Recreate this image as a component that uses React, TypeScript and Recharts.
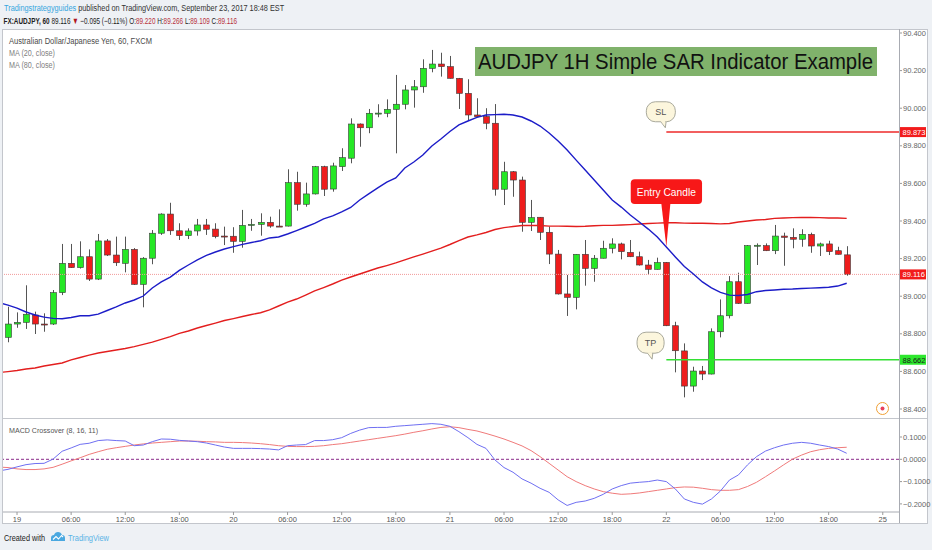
import React from "react";
import { ComposedChart, Bar, Line, XAxis, YAxis, ReferenceLine, ReferenceDot } from "recharts";

const FONT = "'Liberation Sans', Arial, sans-serif";

// ---- hourly candles (index 0 = 18 Sep 23:00) ----
const openP = [
  88.781, 88.852, 88.861, 88.900, 88.852, 88.852, 89.019, 89.175, 89.152, 89.210,
  89.091, 89.294, 89.219, 89.175, 89.249, 89.063, 89.202, 89.335, 89.437, 89.348,
  89.322, 89.347, 89.379, 89.357, 89.320, 89.319, 89.292, 89.379, 89.382, 89.393,
  89.373, 89.373, 89.604, 89.489, 89.544, 89.689, 89.570, 89.689, 89.734, 89.916,
  89.896, 89.973, 89.973, 89.994, 90.021, 90.097, 90.114, 90.212, 90.235, 90.221,
  90.159, 90.079, 89.964, 89.956, 89.920, 89.569, 89.662, 89.618, 89.393, 89.420,
  89.340, 89.224, 89.012, 88.994, 89.223, 89.148, 89.202, 89.255, 89.278, 89.233,
  89.210, 89.166, 89.143, 89.180, 88.843, 88.709, 88.522, 88.602, 88.586, 88.811,
  88.896, 89.077, 88.962, 89.269, 89.269, 89.242, 89.320, 89.313, 89.303, 89.329,
  89.267, 89.278, 89.242, 89.220,
];
const highP = [
  88.944, 88.914, 89.058, 88.918, 88.909, 89.033, 89.278, 89.278, 89.292, 89.249,
  89.331, 89.304, 89.317, 89.317, 89.256, 89.208, 89.352, 89.441, 89.497, 89.388,
  89.361, 89.411, 89.411, 89.388, 89.370, 89.367, 89.459, 89.411, 89.441, 89.423,
  89.462, 89.675, 89.662, 89.604, 89.693, 89.694, 89.710, 89.787, 89.946, 89.919,
  89.996, 90.021, 90.047, 90.177, 90.123, 90.150, 90.260, 90.310, 90.295, 90.278,
  90.161, 90.154, 90.053, 90.000, 90.022, 89.715, 89.666, 89.636, 89.512, 89.421,
  89.370, 89.246, 89.113, 89.224, 89.299, 89.219, 89.295, 89.308, 89.285, 89.299,
  89.237, 89.193, 89.205, 89.182, 88.864, 88.749, 88.625, 88.629, 88.829, 88.983,
  89.107, 89.125, 89.272, 89.281, 89.281, 89.379, 89.338, 89.361, 89.356, 89.338,
  89.285, 89.295, 89.263, 89.266,
];
const lowP = [
  88.755, 88.832, 88.826, 88.799, 88.811, 88.847, 89.006, 89.150, 89.147, 89.081,
  89.086, 89.214, 89.161, 89.127, 89.060, 88.941, 89.170, 89.326, 89.326, 89.299,
  89.304, 89.322, 89.326, 89.308, 89.272, 89.231, 89.258, 89.348, 89.322, 89.364,
  89.368, 89.371, 89.455, 89.476, 89.541, 89.533, 89.556, 89.666, 89.707, 89.795,
  89.867, 89.952, 89.952, 89.760, 89.994, 90.003, 90.082, 90.191, 90.168, 90.158,
  89.996, 89.937, 89.951, 89.888, 89.535, 89.485, 89.529, 89.343, 89.347, 89.299,
  89.171, 89.009, 88.895, 88.930, 89.056, 89.077, 89.201, 89.228, 89.196, 89.208,
  89.163, 89.115, 89.142, 88.841, 88.595, 88.462, 88.492, 88.554, 88.584, 88.781,
  88.882, 88.959, 88.961, 89.166, 89.240, 89.224, 89.162, 89.255, 89.263, 89.231,
  89.214, 89.219, 89.222, 89.109,
];
const closeP = [
  88.852, 88.861, 88.904, 88.852, 88.850, 89.019, 89.175, 89.152, 89.210, 89.091,
  89.294, 89.219, 89.178, 89.249, 89.063, 89.202, 89.335, 89.437, 89.348, 89.322,
  89.347, 89.379, 89.356, 89.317, 89.319, 89.292, 89.377, 89.382, 89.393, 89.373,
  89.371, 89.604, 89.489, 89.544, 89.689, 89.569, 89.693, 89.737, 89.916, 89.896,
  89.973, 89.974, 89.994, 90.021, 90.097, 90.114, 90.212, 90.235, 90.221, 90.159,
  90.079, 89.964, 89.955, 89.920, 89.569, 89.662, 89.618, 89.393, 89.418, 89.340,
  89.224, 89.012, 88.994, 89.223, 89.148, 89.202, 89.255, 89.278, 89.237, 89.210,
  89.166, 89.143, 89.179, 88.843, 88.710, 88.522, 88.602, 88.586, 88.811, 88.896,
  89.077, 88.962, 89.269, 89.271, 89.242, 89.320, 89.313, 89.303, 89.329, 89.267,
  89.278, 89.237, 89.223, 89.116,
];

// ---- indicators (first value = bar just left of the view, index -1) ----
const ma20 = [
  88.966,
  88.953, 88.937, 88.916, 88.900, 88.889, 88.882, 88.880, 88.887, 88.896, 88.896,
  88.905, 88.924, 88.943, 88.964, 88.980, 89.001, 89.044, 89.076, 89.102, 89.137,
  89.166, 89.193, 89.217, 89.235, 89.251, 89.264, 89.276, 89.286, 89.295, 89.310,
  89.315, 89.331, 89.349, 89.368, 89.387, 89.411, 89.427, 89.448, 89.472, 89.512,
  89.544, 89.576, 89.607, 89.629, 89.682, 89.714, 89.751, 89.799, 89.836, 89.876,
  89.911, 89.932, 89.951, 89.964, 89.966, 89.968, 89.964, 89.953, 89.932, 89.905,
  89.868, 89.826, 89.778, 89.724, 89.671, 89.618, 89.565, 89.512, 89.474, 89.432,
  89.395, 89.357, 89.315, 89.262, 89.209, 89.158, 89.118, 89.076, 89.044, 89.020,
  89.006, 89.004, 89.009, 89.024, 89.030, 89.033, 89.037, 89.038, 89.041, 89.043,
  89.045, 89.048, 89.054, 89.069,
];
const ma80 = [
  88.594,
  88.599, 88.605, 88.613, 88.618, 88.629, 88.637, 88.645, 88.661, 88.674, 88.687,
  88.698, 88.706, 88.714, 88.722, 88.732, 88.744, 88.756, 88.770, 88.785, 88.802,
  88.815, 88.831, 88.844, 88.857, 88.871, 88.881, 88.892, 88.903, 88.912, 88.927,
  88.948, 88.969, 88.985, 89.006, 89.028, 89.046, 89.065, 89.086, 89.102, 89.118,
  89.134, 89.150, 89.163, 89.177, 89.193, 89.209, 89.224, 89.240, 89.256, 89.275,
  89.296, 89.315, 89.326, 89.339, 89.355, 89.365, 89.371, 89.376, 89.376, 89.376,
  89.373, 89.373, 89.372, 89.371, 89.372, 89.375, 89.377, 89.377, 89.379, 89.381,
  89.384, 89.387, 89.389, 89.391, 89.391, 89.389, 89.388, 89.388, 89.387, 89.385,
  89.387, 89.395, 89.400, 89.405, 89.408, 89.414, 89.416, 89.418, 89.419, 89.419,
  89.418, 89.416, 89.416, 89.414,
];
// MACD Crossover (8, 16, 11)
const macdLine = [
  -0.052,
  -0.045, -0.034, -0.024, -0.019, -0.018, 0.001, 0.036, 0.051, 0.067, 0.072,
  0.084, 0.087, 0.084, 0.082, 0.061, 0.064, 0.079, 0.091, 0.090, 0.085,
  0.082, 0.079, 0.073, 0.064, 0.055, 0.049, 0.049, 0.049, 0.048, 0.046,
  0.042, 0.061, 0.064, 0.066, 0.084, 0.084, 0.088, 0.097, 0.116, 0.131,
  0.142, 0.143, 0.143, 0.148, 0.151, 0.154, 0.157, 0.160, 0.157, 0.148,
  0.124, 0.097, 0.067, 0.049, -0.003, -0.037, -0.058, -0.088, -0.107, -0.130,
  -0.148, -0.182, -0.207, -0.193, -0.187, -0.175, -0.157, -0.133, -0.118, -0.107,
  -0.103, -0.100, -0.093, -0.100, -0.133, -0.178, -0.193, -0.201, -0.178, -0.142,
  -0.093, -0.070, -0.025, 0.012, 0.037, 0.052, 0.064, 0.072, 0.076, 0.072,
  0.064, 0.057, 0.046, 0.027,
];
const signalLine = [
  -0.035,
  -0.037, -0.043, -0.046, -0.046, -0.043, -0.036, -0.022, -0.007, 0.007, 0.022,
  0.034, 0.045, 0.052, 0.058, 0.064, 0.069, 0.073, 0.076, 0.079, 0.082,
  0.082, 0.081, 0.079, 0.078, 0.076, 0.076, 0.075, 0.073, 0.070, 0.066,
  0.061, 0.058, 0.057, 0.057, 0.058, 0.061, 0.066, 0.070, 0.076, 0.082,
  0.088, 0.094, 0.100, 0.106, 0.113, 0.121, 0.128, 0.136, 0.143, 0.146,
  0.142, 0.134, 0.127, 0.116, 0.104, 0.091, 0.076, 0.060, 0.039, 0.012,
  -0.018, -0.048, -0.078, -0.100, -0.118, -0.133, -0.145, -0.152, -0.157, -0.155,
  -0.151, -0.145, -0.139, -0.133, -0.127, -0.124, -0.125, -0.130, -0.136, -0.139,
  -0.139, -0.136, -0.122, -0.103, -0.078, -0.052, -0.025, 0.001, 0.019, 0.034,
  0.043, 0.049, 0.052, 0.054,
];

// ---- axes ----
const timeTickIdx = [1, 7, 13, 19, 25, 31, 37, 43, 49, 55, 61, 67, 73, 79, 85, 91, 97];
const timeTickLabels = ["19", "06:00", "12:00", "18:00", "20", "06:00", "12:00", "18:00", "21", "06:00", "12:00", "18:00", "22", "06:00", "12:00", "18:00", "25"];
const priceTicks = [88.4, 88.6, 88.8, 89.0, 89.2, 89.4, 89.6, 89.8, 90.0, 90.2, 90.4];
const macdTicks = [-0.2, -0.1, 0, 0.1];

// ---- annotations ----
const lastPrice = 89.116;
const stopLoss = 89.873;
const takeProfit = 88.662;
const entryIndex = 73;
const entryTip = 89.263;
const slTip = 89.896;
const tpTipIndex = 71.75;
const tpTip = 88.665;

const X_DOMAIN: [number, number] = [-0.5544, 98.799];
const PRICE_DOMAIN: [number, number] = [88.3522, 90.4213];
const MACD_DOMAIN: [number, number] = [-0.2363, 0.1852];

const priceData = ma20.map((m, k) => {
  const i = k - 1;
  return {
    i,
    o: i >= 0 ? openP[i] : null,
    h: i >= 0 ? highP[i] : null,
    l: i >= 0 ? lowP[i] : null,
    c: i >= 0 ? closeP[i] : null,
    ma20: m,
    ma80: ma80[k],
  };
});
const macdData = macdLine.map((m, k) => ({ i: k - 1, macd: m, signal: signalLine[k] }));

function Candle(props: any) {
  const { x, y, width, height, payload } = props;
  if (!payload || payload.o == null || height == null || isNaN(y)) return null;
  const top = Math.min(y, y + height);
  const h = Math.abs(height);
  const range = payload.h - payload.l;
  const k = range > 0 ? h / range : 0;
  const up = payload.c >= payload.o;
  const bTop = top + (payload.h - Math.max(payload.o, payload.c)) * k;
  const bBot = top + (payload.h - Math.min(payload.o, payload.c)) * k;
  const cx = Math.round(x + width / 2) + 0.5;
  const bw = 6;
  return (
    <g>
      <line x1={cx} x2={cx} y1={top} y2={top + h} stroke="#555" strokeWidth={1} />
      <rect
        x={cx - bw / 2}
        y={bTop}
        width={bw}
        height={Math.max(1, bBot - bTop)}
        fill={up ? "#25e825" : "#ee1c1c"}
        stroke="#3a3a3a"
        strokeWidth={0.6}
      />
    </g>
  );
}

const makeTag = (value: number, fill: string, color: string) => (p: any) => {
  const { cx, cy } = p;
  return (
    <g>
      <rect x={cx + 1} y={cy - 5} width={26} height={10} fill={fill} />
      <text x={cx + 3.5} y={cy + 2.8} fontSize={7.5} fill={color} fontFamily={FONT}>
        {value.toFixed(3)}
      </text>
    </g>
  );
};

const SLBubble = (p: any) => {
  const { cx, cy } = p;
  return (
    <g>
      <polygon points={`${cx - 7},${cy - 8} ${cx},${cy - 8} ${cx - 1},${cy}`} fill="#fcf6dd" stroke="#a9a99b" strokeWidth={1} />
      <rect x={cx - 20} y={cy - 26} width={29} height={20} rx={9} fill="#fcf6dd" stroke="#a9a99b" strokeWidth={1} />
      <polygon points={`${cx - 6},${cy - 7} ${cx - 1},${cy - 7} ${cx - 1.5},${cy - 2}`} fill="#fcf6dd" />
      <text x={cx - 5.5} y={cy - 12.5} fontSize={9} fill="#555" textAnchor="middle" fontFamily={FONT}>SL</text>
    </g>
  );
};

const TPBubble = (p: any) => {
  const { cx, cy } = p;
  return (
    <g>
      <polygon points={`${cx - 9},${cy - 8} ${cx - 2},${cy - 8} ${cx - 3},${cy}`} fill="#fcf6dd" stroke="#a9a99b" strokeWidth={1} />
      <rect x={cx - 18} y={cy - 27} width={27} height={21} rx={9} fill="#fcf6dd" stroke="#a9a99b" strokeWidth={1} />
      <polygon points={`${cx - 8},${cy - 7} ${cx - 3},${cy - 7} ${cx - 3.5},${cy - 2}`} fill="#fcf6dd" />
      <text x={cx - 4.5} y={cy - 13} fontSize={9} fill="#555" textAnchor="middle" fontFamily={FONT}>TP</text>
    </g>
  );
};

const EntryLabel = (p: any) => {
  const { cx, cy } = p;
  return (
    <g>
      <rect x={cx - 35.6} y={cy - 67.4} width={71.3} height={24.7} rx={4} fill="#f71818" />
      <polygon points={`${cx - 5},${cy - 43} ${cx + 4},${cy - 43} ${cx},${cy}`} fill="#f71818" />
      <text x={cx} y={cy - 51} fontSize={10.5} fill="#fff" textAnchor="middle" fontFamily={FONT} textLength={59} lengthAdjust="spacingAndGlyphs">
        Entry Candle
      </text>
    </g>
  );
};

const fmtTime = (v: number) => {
  const k = timeTickIdx.indexOf(v);
  return k >= 0 ? timeTickLabels[k] : "";
};
const fmtMacd = (v: number) => (v < 0 ? "\u2212" + Math.abs(v).toFixed(4) : v.toFixed(4));

const DARK = "#222";
const VAL = "#b8323e";

export default function App() {
  return (
    <div style={{ position: "absolute", left: 0, top: 0, width: 932, height: 550, background: "#eef1f5", overflow: "hidden", fontFamily: FONT }}>
      {/* white chart panel */}
      <div style={{ position: "absolute", left: 2, top: 29, width: 926, height: 495, background: "#fff", border: "1px solid #c3c6cc", boxSizing: "border-box" }} />

      {/* price pane */}
      <div style={{ position: "absolute", left: 0, top: 0 }}>
        <ComposedChart width={932} height={418} data={priceData} margin={{ top: 29, right: 5, left: 3, bottom: 0 }}>
          <XAxis type="number" dataKey="i" domain={X_DOMAIN} allowDataOverflow hide />
          <YAxis
            orientation="right"
            width={28}
            domain={PRICE_DOMAIN}
            allowDataOverflow
            ticks={priceTicks}
            interval={0}
            tickFormatter={(v: number) => v.toFixed(3)}
            tick={{ fontSize: 7.5, fill: "#666", fontFamily: FONT }}
            tickSize={3}
            tickMargin={1}
            axisLine={false}
            tickLine={{ stroke: "#999" }}
          />
          <ReferenceLine y={lastPrice} stroke="#f29a9a" strokeDasharray="1 1" strokeWidth={1} />
          <Line dataKey="ma80" stroke="#e31e1e" strokeWidth={1.4} dot={false} isAnimationActive={false} />
          <Line dataKey="ma20" stroke="#1c1cc8" strokeWidth={1.4} dot={false} isAnimationActive={false} />
          <Bar dataKey={(d: any) => (d.o == null ? null : [d.l, d.h])} shape={<Candle />} barSize={7} isAnimationActive={false} />
          <ReferenceLine segment={[{ x: entryIndex, y: stopLoss }, { x: X_DOMAIN[1], y: stopLoss }]} stroke="#ee2a2a" strokeWidth={1.5} ifOverflow="visible" />
          <ReferenceLine segment={[{ x: entryIndex, y: takeProfit }, { x: X_DOMAIN[1], y: takeProfit }]} stroke="#33e033" strokeWidth={1.5} ifOverflow="visible" />
          <ReferenceDot x={entryIndex} y={entryTip} ifOverflow="visible" shape={EntryLabel} />
          <ReferenceDot x={entryIndex} y={slTip} ifOverflow="visible" shape={SLBubble} />
          <ReferenceDot x={tpTipIndex} y={tpTip} ifOverflow="visible" shape={TPBubble} />
          <ReferenceDot x={X_DOMAIN[1]} y={stopLoss} ifOverflow="visible" shape={makeTag(stopLoss, "#f21c1c", "#fff")} />
          <ReferenceDot x={X_DOMAIN[1]} y={lastPrice} ifOverflow="visible" shape={makeTag(lastPrice, "#f21c1c", "#fff")} />
          <ReferenceDot x={X_DOMAIN[1]} y={takeProfit} ifOverflow="visible" shape={makeTag(takeProfit, "#2ee82e", "#1a1a1a")} />
        </ComposedChart>
      </div>

      {/* MACD pane + time axis */}
      <div style={{ position: "absolute", left: 0, top: 418 }}>
        <ComposedChart width={932} height={132} data={macdData} margin={{ top: 0, right: 5, left: 3, bottom: 27 }}>
          <XAxis
            type="number"
            dataKey="i"
            domain={X_DOMAIN}
            allowDataOverflow
            ticks={timeTickIdx}
            interval={0}
            tickFormatter={fmtTime}
            height={11}
            tick={{ fontSize: 7.5, fill: "#555", fontFamily: FONT }}
            tickSize={3}
            tickMargin={2}
            axisLine={{ stroke: "#a8abb2" }}
            tickLine={{ stroke: "#999" }}
          />
          <YAxis
            orientation="right"
            width={28}
            domain={MACD_DOMAIN}
            allowDataOverflow
            ticks={macdTicks}
            interval={0}
            tickFormatter={fmtMacd}
            tick={{ fontSize: 7.5, fill: "#666", fontFamily: FONT }}
            tickSize={3}
            tickMargin={1}
            axisLine={false}
            tickLine={{ stroke: "#999" }}
          />
          <ReferenceLine y={0} stroke="#8a2b8a" strokeDasharray="3 2" strokeWidth={1} />
          <Line dataKey="signal" stroke="#f07a7a" strokeWidth={1} dot={false} isAnimationActive={false} />
          <Line dataKey="macd" stroke="#6f6ff2" strokeWidth={1} dot={false} isAnimationActive={false} />
        </ComposedChart>
      </div>

      {/* texts, frame lines and decorations */}
      <svg width={932} height={550} style={{ position: "absolute", left: 0, top: 0, pointerEvents: "none" }} fontFamily={FONT}>
        <line x1={2} x2={927} y1={418.5} y2={418.5} stroke="#c3c6cc" strokeWidth={1} />
        <line x1={899.5} x2={899.5} y1={29} y2={523} stroke="#a8abb2" strokeWidth={1} />

        <g transform="translate(4,10.5) scale(0.815,1)">
          <text x={0} y={0} fontSize={9}>
            <tspan fill="#37a6de">Tradingstrategyguides</tspan>
            <tspan fill="#333">{" published on TradingView.com, September 23, 2017 18:48 EST"}</tspan>
          </text>
        </g>
        <g transform="translate(3.5,23.5) scale(0.71,1)">
          <text x={0} y={0} fontSize={9} fill={DARK}>
            <tspan fontWeight="bold">FX:AUDJPY, 60</tspan>
            <tspan>{" 89.116 "}</tspan>
            <tspan fill="#b0161e">{"\u25BC"}</tspan>
            <tspan>{" \u22120.095 (\u22120.11%) O:"}</tspan>
            <tspan fill={VAL}>89.220</tspan>
            <tspan>{" H:"}</tspan>
            <tspan fill={VAL}>89.266</tspan>
            <tspan>{" L:"}</tspan>
            <tspan fill={VAL}>89.109</tspan>
            <tspan>{" C:"}</tspan>
            <tspan fill={VAL}>89.116</tspan>
          </text>
        </g>

        <text x={9} y={44} fontSize={8.5} fill="#4a4a4a" textLength={143} lengthAdjust="spacingAndGlyphs">Australian Dollar/Japanese Yen, 60, FXCM</text>
        <text x={9} y={56} fontSize={8.5} fill="#808080" textLength={46} lengthAdjust="spacingAndGlyphs">MA (20, close)</text>
        <text x={9} y={68} fontSize={8.5} fill="#808080" textLength={46} lengthAdjust="spacingAndGlyphs">MA (80, close)</text>

        <rect x={475} y={47} width={402} height={29} fill="#80b26b" />
        <text x={478} y={69} fontSize={22} fill="#111" textLength={395} lengthAdjust="spacingAndGlyphs">AUDJPY 1H Simple SAR Indicator Example</text>

        <circle cx={882.5} cy={408.5} r={6} fill="#fff" stroke="#f0a035" strokeWidth={1} />
        <circle cx={882.5} cy={408.5} r={2} fill="#e8405a" />

        <text x={9} y={433} fontSize={8} fill="#555" textLength={89} lengthAdjust="spacingAndGlyphs">MACD Crossover (8, 16, 11)</text>

        <text x={4} y={541} fontSize={9} fill="#222" textLength={41} lengthAdjust="spacingAndGlyphs">Created with</text>
        <path d="M51 541 L51 538 Q51 535 54 535 Q55 532 58 532 Q61 532 62 535 Q65 535 65 538 L65 541 Z" fill="#4aa8e0" />
        <polyline points="53,539.5 56,536.5 58.5,539 61.5,535.5 63,537" fill="none" stroke="#fff" strokeWidth={1.1} />
        <text x={68} y={541} fontSize={9} fill="#5ab3e6" textLength={41} lengthAdjust="spacingAndGlyphs">TradingView</text>
      </svg>
    </div>
  );
}
